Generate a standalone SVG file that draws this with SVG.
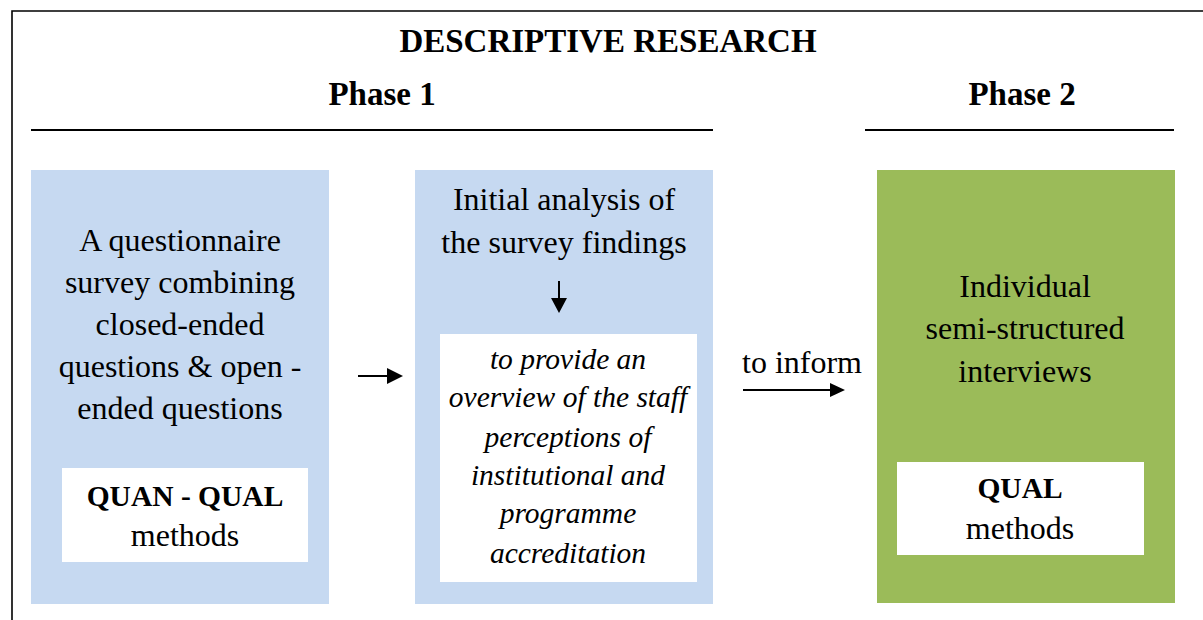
<svg xmlns="http://www.w3.org/2000/svg" width="1203" height="620" viewBox="0 0 1203 620">
  <defs>
    <style>
      text { font-family: "Liberation Serif", "Times New Roman", serif; fill: #000; text-anchor: middle; }
      .title { font-size: 33px; font-weight: bold; }
      .body { font-size: 32px; }
      .bold { font-size: 29.5px; font-weight: bold; }
      .ital { font-size: 29.5px; font-style: italic; }
      .blue { fill: #C6D9F1; }
      .green { fill: #9BBB59; }
      .panel { fill: #FFFFFF; }
      .rule { stroke: #000; stroke-width: 2; fill: none; }
      .conn { stroke: #000; stroke-width: 2; fill: none; }
    </style>
  </defs>

  <rect x="0" y="0" width="1203" height="620" fill="#FFFFFF"/>

  <!-- frame -->
  <path d="M12 620 V11 H1203" stroke="#000" stroke-width="1.6" fill="none"/>

  <!-- headings -->
  <g id="headings">
    <text class="title" x="608" y="52">DESCRIPTIVE RESEARCH</text>
    <text class="title" x="382" y="105">Phase 1</text>
    <text class="title" x="1022" y="105">Phase 2</text>
    <line class="rule" x1="31" y1="130" x2="713" y2="130"/>
    <line class="rule" x1="865" y1="130" x2="1174" y2="130"/>
  </g>

  <!-- questionnaire survey -->
  <g id="survey">
    <rect class="blue" x="31" y="170" width="298" height="434"/>
    <text class="body" x="180" y="251">A questionnaire</text>
    <text class="body" x="180" y="293">survey combining</text>
    <text class="body" x="180" y="335">closed-ended</text>
    <text class="body" x="180" y="377">questions &amp; open -</text>
    <text class="body" x="180" y="419">ended questions</text>
    <rect class="panel" x="62" y="468" width="246" height="94"/>
    <text class="bold" x="185" y="506">QUAN - QUAL</text>
    <text class="body" x="185" y="546">methods</text>
  </g>

  <!-- initial analysis -->
  <g id="analysis">
    <rect class="blue" x="415" y="170" width="298" height="434"/>
    <text class="body" x="564" y="210">Initial analysis of</text>
    <text class="body" x="564" y="253">the survey findings</text>
    <rect class="panel" x="440" y="334" width="257" height="248"/>
    <text class="ital" x="568" y="369">to provide an</text>
    <text class="ital" x="568" y="407">overview of the staff</text>
    <text class="ital" x="568" y="447">perceptions of</text>
    <text class="ital" x="568" y="485">institutional and</text>
    <text class="ital" x="568" y="523">programme</text>
    <text class="ital" x="568" y="563">accreditation</text>
  </g>

  <!-- interviews -->
  <g id="interviews">
    <rect class="green" x="877" y="170" width="298" height="433"/>
    <text class="body" x="1025" y="297">Individual</text>
    <text class="body" x="1025" y="339">semi-structured</text>
    <text class="body" x="1025" y="382">interviews</text>
    <rect class="panel" x="897" y="462" width="247" height="93"/>
    <text class="bold" x="1020" y="498">QUAL</text>
    <text class="body" x="1020" y="539">methods</text>
  </g>

  <!-- connectors -->
  <g id="connectors">
    <line class="conn" x1="358" y1="376" x2="389" y2="376"/>
    <polygon points="387,368 403,376 387,384" fill="#000"/>

    <line class="conn" x1="559" y1="281" x2="559" y2="300"/>
    <polygon points="551,298 567,298 559,313" fill="#000"/>

    <text class="body" x="802" y="373">to inform</text>
    <line class="conn" x1="743" y1="390" x2="832" y2="390"/>
    <polygon points="830,383 845,390 830,397" fill="#000"/>
  </g>
</svg>
